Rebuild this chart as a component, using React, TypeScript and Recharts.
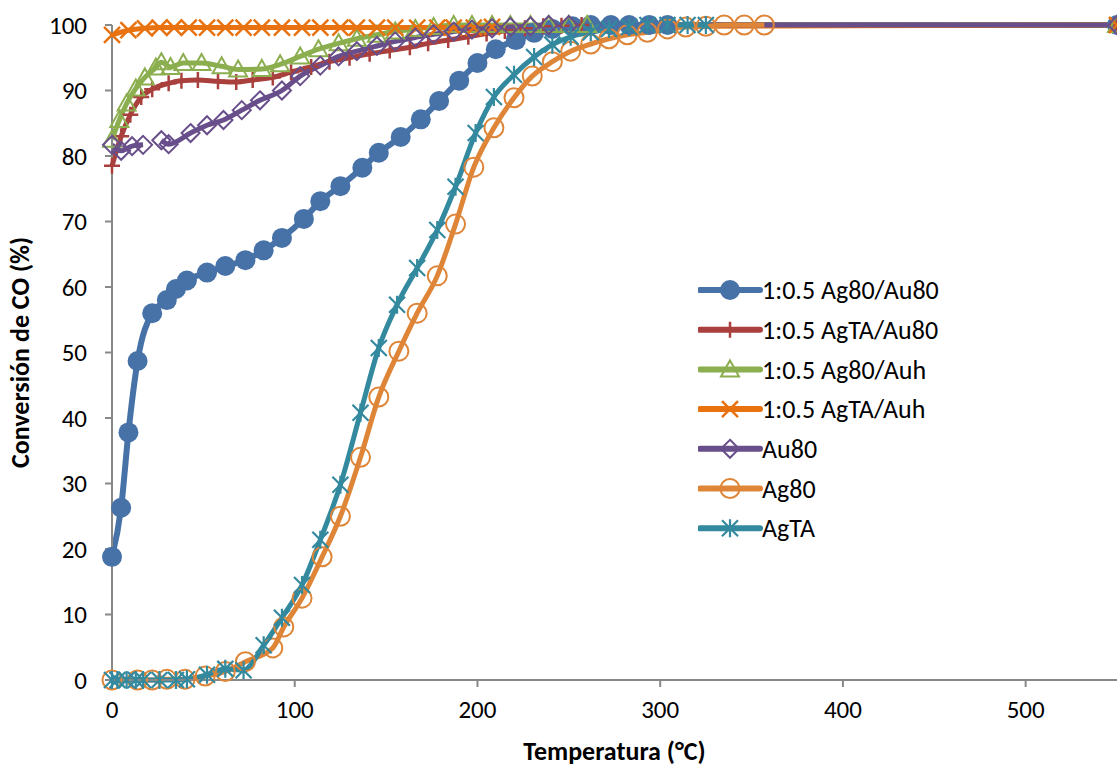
import { LineChart, Line, XAxis, YAxis } from 'recharts';

const FONT = "Carlito, 'Open Sans', sans-serif";

const xTicks = [0, 100, 200, 300, 400, 500];
const yTicks = [0, 10, 20, 30, 40, 50, 60, 70, 80, 90, 100];

const ag80Au80X = [0, 5, 9, 14, 22, 30, 35, 41, 52, 62, 73, 83, 93, 105, 114, 125, 137, 146, 158, 169, 179, 190, 200, 210, 221, 231, 241, 252, 262, 273, 283, 294, 304, 550];
const ag80Au80Y = [18.8, 26.3, 37.8, 48.7, 56, 58, 59.7, 61, 62.2, 63.2, 64.1, 65.6, 67.5, 70.4, 73.1, 75.4, 78.2, 80.5, 82.9, 85.6, 88.4, 91.5, 94.2, 96.3, 97.7, 98.8, 99.4, 99.8, 100, 100, 100, 100, 100, 100];

const agtaAu80X = [0, 5, 10, 16, 22, 31, 38, 47, 58, 68, 77, 88, 98, 109, 119, 130, 141, 152, 163, 173, 184, 195, 205, 215, 226, 236, 246, 257, 550];
const agtaAu80Y = [78.5, 83, 86.3, 89, 90.2, 91.1, 91.5, 91.6, 91.4, 91.3, 91.6, 92, 92.8, 93.6, 94.4, 95, 95.6, 96.1, 96.6, 97.2, 97.7, 98.2, 98.7, 99.1, 99.5, 99.8, 99.9, 100, 100];

const ag80AuhX = [0, 4, 8, 13, 18, 24, 27, 32, 39, 49, 60, 69, 82, 92, 103, 113, 124, 134, 145, 155, 166, 176, 187, 197, 208, 218, 229, 239, 250, 260, 550];
const ag80AuhY = [82.5, 85.5, 88, 90.3, 92, 93.5, 94.3, 93.6, 94.2, 94.2, 93.7, 93.2, 93.3, 94, 95.2, 96.3, 97.2, 97.9, 98.5, 99, 99.4, 99.7, 100, 100, 100, 100, 100, 100, 100, 100, 100];

const agtaAuhX = [0, 9, 18, 26, 34, 42, 52, 62, 72, 82, 93, 104, 114, 125, 134, 145, 155, 167, 178, 187, 198, 208, 550];
const agtaAuhY = [98.5, 99.2, 99.5, 99.6, 99.6, 99.6, 99.6, 99.6, 99.6, 99.6, 99.6, 99.6, 99.6, 99.6, 99.6, 99.6, 99.6, 99.6, 99.6, 99.6, 99.6, 99.7, 100];

const au80X = [0, 5, 11, 17, 22, 27, 31, 43, 52, 61, 71, 81, 93, 103, 114, 124, 134, 145, 155, 166, 176, 187, 197, 208, 218, 229, 239, 250, 550];
const au80Y = [81.7, 80.8, 81.5, 81.7, null, 82.4, 81.8, 83.5, 84.7, 85.5, 87, 88.5, 90, 92.2, 93.8, 95.2, 96, 96.8, 97.5, 98.1, 98.6, 99, 99.3, 99.5, 99.7, 99.8, 100, 100, 100];

const ag80X = [0, 14, 22, 30, 40, 51, 62, 73, 88, 94, 104, 115, 125, 136, 146, 157, 167, 178, 188, 198, 209, 220, 230, 241, 251, 262, 272, 282, 293, 304, 314, 325, 335, 346, 357];
const ag80Y = [0, 0, 0, 0.1, 0.1, 0.6, 1.3, 2.8, 4.9, 8.1, 12.5, 18.8, 25, 34, 43.2, 50.2, 56, 61.7, 69.6, 78.3, 84.3, 88.9, 92.2, 94.4, 96, 97.1, 97.9, 98.5, 98.9, 99.4, 99.7, 99.8, 100, 100, 100];

const agtaX = [0, 3, 8, 13, 17, 26, 35, 41, 52, 62, 72, 83, 93, 104, 114, 125, 136, 146, 156, 167, 178, 188, 199, 209, 220, 231, 241, 251, 262, 272, 283, 293, 304, 315, 325];
const agtaY = [0, 0, 0, 0, 0, 0, 0, 0.1, 0.8, 1.7, 1.5, 5.3, 9.5, 14.5, 21.4, 29.8, 40.8, 50.7, 57.3, 62.9, 68.7, 75.3, 83.5, 89, 92.4, 95.1, 97, 98.2, 98.9, 99.4, 99.7, 100, 100, 100, 100];

const toPoints = (xs: number[], ys: (number | null)[]) => xs.map((x, i) => ({ x, y: ys[i] }));

type MarkerKind = 'circle' | 'plus' | 'triangle' | 'cross' | 'diamond' | 'ring' | 'star';

function Marker({ kind, cx, cy, color }: { kind: MarkerKind; cx: number; cy: number; color: string }) {
  const s = 8;
  switch (kind) {
    case 'circle':
      return <circle cx={cx} cy={cy} r={10} fill={color} />;
    case 'ring':
      return <circle cx={cx} cy={cy} r={9.5} fill="none" stroke={color} strokeWidth={2} />;
    case 'plus':
      return <path d={`M${cx - s},${cy}H${cx + s}M${cx},${cy - s}V${cy + s}`} stroke={color} strokeWidth={2.5} />;
    case 'cross':
      return <path d={`M${cx - s},${cy - s}L${cx + s},${cy + s}M${cx - s},${cy + s}L${cx + s},${cy - s}`} stroke={color} strokeWidth={2.5} />;
    case 'star':
      return (
        <path
          d={`M${cx - s},${cy - s}L${cx + s},${cy + s}M${cx - s},${cy + s}L${cx + s},${cy - s}M${cx},${cy - s - 1}V${cy + s + 1}`}
          stroke={color}
          strokeWidth={2.2}
        />
      );
    case 'triangle':
      return <path d={`M${cx},${cy - 9}L${cx + 9},${cy + 7}L${cx - 9},${cy + 7}Z`} fill="none" stroke={color} strokeWidth={2} />;
    case 'diamond':
      return <path d={`M${cx},${cy - 9}L${cx + 9},${cy}L${cx},${cy + 9}L${cx - 9},${cy}Z`} fill="none" stroke={color} strokeWidth={2} />;
  }
}

const series = [
  { name: '1:0.5 Ag80/Au80', color: '#4672A8', marker: 'circle' as MarkerKind, width: 6, data: toPoints(ag80Au80X, ag80Au80Y) },
  { name: '1:0.5 AgTA/Au80', color: '#A9403D', marker: 'plus' as MarkerKind, width: 5, data: toPoints(agtaAu80X, agtaAu80Y) },
  { name: '1:0.5 Ag80/Auh', color: '#8BAE4F', marker: 'triangle' as MarkerKind, width: 5, data: toPoints(ag80AuhX, ag80AuhY) },
  { name: '1:0.5 AgTA/Auh', color: '#E8720F', marker: 'cross' as MarkerKind, width: 5, data: toPoints(agtaAuhX, agtaAuhY) },
  { name: 'Au80', color: '#684E8A', marker: 'diamond' as MarkerKind, width: 5, data: toPoints(au80X, au80Y) },
  { name: 'Ag80', color: '#DE8538', marker: 'ring' as MarkerKind, width: 5, data: toPoints(ag80X, ag80Y) },
  { name: 'AgTA', color: '#33899E', marker: 'star' as MarkerKind, width: 5, data: toPoints(agtaX, agtaY) },
];

function LegendBox() {
  return (
    <svg width={300} height={280} style={{ position: 'absolute', left: 698, top: 270 }}>
      {series.map((s, i) => {
        const y = 20 + i * 39.7;
        return (
          <g key={s.name}>
            <line x1={2} x2={62} y1={y} y2={y} stroke={s.color} strokeWidth={6} strokeLinecap="round" />
            <Marker kind={s.marker} cx={32} cy={y} color={s.color} />
            <text x={64} y={y} dy="0.35em" fontSize={26} fontFamily={FONT} fill="#000">
              {s.name}
            </text>
          </g>
        );
      })}
    </svg>
  );
}

export default function App() {
  const axisStroke = '#888888';
  return (
    <div style={{ position: 'absolute', left: 0, top: 0, width: 1117, height: 767, background: '#fff' }}>
      <LineChart width={1117} height={767} margin={{ top: 25, right: 0, bottom: 0, left: 0 }}>
        <XAxis
          type="number"
          dataKey="x"
          domain={[0, 550]}
          ticks={xTicks}
          height={87}
          tickSize={7}
          tickMargin={13}
          stroke={axisStroke}
          strokeWidth={2}
          tick={{ fill: '#000', fontSize: 25, fontFamily: FONT }}
          label={{ value: 'Temperatura (°C)', position: 'insideBottom', offset: 7, fill: '#000', fontSize: 26, fontWeight: 'bold', fontFamily: FONT }}
        />
        <YAxis
          type="number"
          domain={[0, 100]}
          ticks={yTicks}
          width={112}
          tickSize={7}
          tickMargin={18}
          stroke={axisStroke}
          strokeWidth={2}
          tick={{ fill: '#000', fontSize: 25, fontFamily: FONT }}
          label={{ value: 'Conversión de CO (%)', angle: -90, position: 'insideLeft', offset: 20, fill: '#000', fontSize: 26, fontWeight: 'bold', fontFamily: FONT, style: { textAnchor: 'middle' } }}
        />
        {series.map((s) => (
          <Line
            key={s.name}
            data={s.data}
            dataKey="y"
            name={s.name}
            type="monotone"
            stroke={s.color}
            strokeWidth={s.width}
            isAnimationActive={false}
            connectNulls={false}
            dot={(p: any) =>
              p.cx == null || p.cy == null || p.value == null ? (
                <g key={`${s.name}-${p.index}`} />
              ) : (
                <g key={`${s.name}-${p.index}`}>
                  <Marker kind={s.marker} cx={p.cx} cy={p.cy} color={s.color} />
                </g>
              )
            }
          />
        ))}
      </LineChart>
      <LegendBox />
    </div>
  );
}
